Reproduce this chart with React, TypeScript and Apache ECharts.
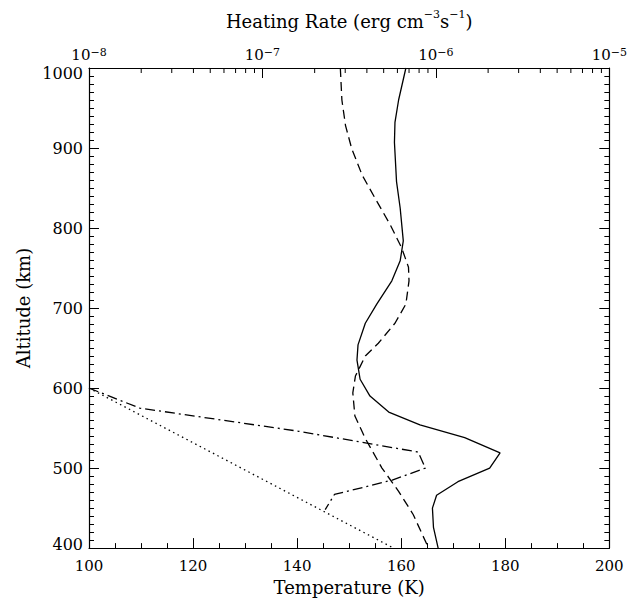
import React, { useEffect, useRef } from "react";
import * as echarts from "echarts";

// Temperature profile (solid), bottom axis
const altSolid = [1000, 960, 932, 907, 858, 825, 784, 759, 734, 705, 681, 654, 635, 611, 590, 570, 554, 538, 519, 500, 483, 466, 450, 426, 400];
const tempSolid = [160.9, 159.5, 158.8, 158.7, 159.1, 159.8, 160.4, 159.8, 158.2, 155.3, 153.1, 151.7, 151.5, 152.1, 154.0, 157.6, 163.6, 172.2, 179.0, 177.0, 170.9, 166.8, 166.0, 166.2, 167.1];

// Second temperature profile (dashed), bottom axis
const altDashed = [1000, 960, 928, 899, 866, 837, 804, 775, 751, 734, 705, 681, 656, 640, 615, 594, 565, 537, 500, 471, 442, 405, 400];
const tempDashed = [148.3, 148.6, 149.3, 150.5, 152.5, 155.0, 157.9, 160.1, 161.4, 161.5, 160.9, 158.8, 155.6, 153.1, 151.2, 150.7, 151.1, 153.1, 156.3, 159.5, 162.3, 164.9, 165.3];

// Heating rates, top (log) axis
const altDashDot = [600, 575, 546, 520, 500, 485, 467, 448];
const hrDashDot = [1.0e-8, 1.96e-8, 1.62e-7, 7.9e-7, 8.7e-7, 5.6e-7, 2.6e-7, 2.3e-7];

const altDotted = [600, 400];
const hrDotted = [1.0e-8, 5.7e-7];

// Minor tick positions on the log axis
const hrMinorTicks = [
  2e-8, 3e-8, 4e-8, 5e-8, 6e-8, 7e-8, 8e-8, 9e-8,
  2e-7, 3e-7, 4e-7, 5e-7, 6e-7, 7e-7, 8e-7, 9e-7,
  2e-6, 3e-6, 4e-6, 5e-6, 6e-6, 7e-6, 8e-6, 9e-6,
];

const ALT_MIN = 400;
const ALT_MAX = 1000;

const FONT = "DejaVu Serif";
const BLACK = "#000";

export default function App() {
  const ref = useRef<HTMLDivElement>(null);

  useEffect(() => {
    document.body.style.margin = "0";
    const chart = echarts.init(ref.current!, null, { renderer: "svg" });
    const axisLine = { show: true, lineStyle: { color: BLACK, width: 1.2 } };
    const tickStyle = { color: BLACK, width: 1 };
    const labelStyle = { color: BLACK, fontFamily: FONT, fontSize: 15 };
    const yLabelStyle = { color: BLACK, fontFamily: FONT, fontSize: 16 };
    const zip = (a: number[], b: number[]) => a.map((v, i) => [v, b[i]]);
    const hiddenY = (only: number, va: string, lh: number) => ({
      type: "value",
      position: "left",
      min: ALT_MIN,
      max: ALT_MAX,
      interval: 100,
      axisLine: { show: false },
      axisTick: { show: false },
      splitLine: { show: false },
      axisLabel: {
        ...yLabelStyle,
        margin: 6,
        verticalAlign: va,
        lineHeight: lh,
        showMinLabel: true,
        showMaxLabel: true,
        formatter: (v: number) => (v === only ? String(v) : ""),
      },
    });

    chart.setOption({
      animation: false,
      backgroundColor: "#fff",
      grid: { left: 89, right: 18, top: 68, bottom: 47, containLabel: false },
      xAxis: [
        {
          type: "value",
          position: "bottom",
          min: 100,
          max: 200,
          interval: 20,
          name: "Temperature (K)",
          nameLocation: "middle",
          nameGap: 29,
          nameTextStyle: { color: BLACK, fontFamily: FONT, fontSize: 18 },
          axisLine,
          axisTick: { show: true, inside: true, length: 10, lineStyle: tickStyle },
          minorTick: { show: true, splitNumber: 4, length: 5, lineStyle: tickStyle },
          axisLabel: { ...labelStyle, margin: 10, showMinLabel: true, showMaxLabel: true, formatter: (v: number) => String(v) },
          splitLine: { show: false },
          minorSplitLine: { show: false },
        },
        {
          type: "log",
          logBase: 10,
          position: "top",
          min: 1e-8,
          max: 1e-5,
          name: "{t|Heating Rate (erg cm}{s|−3}{t|s}{s|−1}{t|)}",
          nameLocation: "middle",
          nameGap: 35,
          nameTextStyle: {
            color: BLACK,
            fontFamily: FONT,
            fontSize: 18,
            rich: {
              t: { fontFamily: FONT, fontSize: 18, lineHeight: 24, color: BLACK },
              s: { fontFamily: FONT, fontSize: 11, lineHeight: 12, verticalAlign: "top", color: BLACK },
            },
          },
          axisLine,
          axisTick: { show: true, inside: true, length: 10, lineStyle: tickStyle },
          minorTick: { show: false },
          axisLabel: {
            color: BLACK,
            fontFamily: FONT,
            fontSize: 15,
            margin: 6,
            showMinLabel: true,
            showMaxLabel: true,
            formatter: (v: number) => `{a|10}{b|−${Math.abs(Math.round(Math.log10(v)))}}`,
            rich: {
              a: { fontFamily: FONT, fontSize: 15, lineHeight: 15, color: BLACK },
              b: { fontFamily: FONT, fontSize: 11, lineHeight: 4, verticalAlign: "top", color: BLACK },
            },
          },
          splitLine: { show: false },
        },
      ],
      yAxis: [
        {
          type: "value",
          position: "left",
          min: ALT_MIN,
          max: ALT_MAX,
          interval: 100,
          name: "Altitude (km)",
          nameLocation: "middle",
          nameGap: 57,
          nameTextStyle: { color: BLACK, fontFamily: FONT, fontSize: 18 },
          axisLine,
          axisTick: { show: true, inside: true, length: 10, lineStyle: tickStyle },
          minorTick: { show: true, splitNumber: 10, length: 5, lineStyle: tickStyle },
          axisLabel: {
            ...yLabelStyle,
            margin: 6,
            showMinLabel: true,
            showMaxLabel: true,
            formatter: (v: number) => (v === ALT_MIN || v === ALT_MAX ? "" : String(v)),
          },
          splitLine: { show: false },
          minorSplitLine: { show: false },
        },
        {
          type: "value",
          position: "right",
          min: ALT_MIN,
          max: ALT_MAX,
          interval: 100,
          axisLine,
          axisTick: { show: true, inside: true, length: 10, lineStyle: tickStyle },
          minorTick: { show: true, splitNumber: 10, length: 5, lineStyle: tickStyle },
          axisLabel: { show: false },
          splitLine: { show: false },
          minorSplitLine: { show: false },
        },
        hiddenY(ALT_MAX, "top", 10),
        hiddenY(ALT_MIN, "bottom", 8),
      ],
      series: [
        {
          type: "line",
          xAxisIndex: 0,
          yAxisIndex: 0,
          data: zip(tempSolid, altSolid),
          symbol: "none",
          lineStyle: { color: BLACK, width: 1.3, type: "solid" },
        },
        {
          type: "line",
          xAxisIndex: 0,
          yAxisIndex: 0,
          data: zip(tempDashed, altDashed),
          symbol: "none",
          lineStyle: { color: BLACK, width: 1.3, type: [9, 5] },
        },
        {
          type: "line",
          xAxisIndex: 1,
          yAxisIndex: 0,
          data: zip(hrDashDot, altDashDot),
          symbol: "none",
          lineStyle: { color: BLACK, width: 1.3, type: [10, 4, 2, 4] },
        },
        {
          type: "line",
          xAxisIndex: 1,
          yAxisIndex: 0,
          data: zip(hrDotted, altDotted),
          symbol: "none",
          lineStyle: { color: BLACK, width: 1.3, type: [1.5, 3.5] },
        },
        {
          type: "custom",
          xAxisIndex: 1,
          yAxisIndex: 0,
          silent: true,
          clip: false,
          data: hrMinorTicks.map((v) => [v, ALT_MAX]),
          renderItem: (_params: any, api: any) => {
            const p = api.coord([api.value(0), api.value(1)]);
            return {
              type: "line",
              shape: { x1: p[0], y1: p[1], x2: p[0], y2: p[1] + 5 },
              style: { stroke: BLACK, lineWidth: 1 },
            };
          },
        },
      ],
    });
    return () => chart.dispose();
  }, []);

  return (
    <div
      ref={ref}
      style={{ position: "absolute", left: 0, top: 0, width: 630, height: 601, background: "#fff" }}
    />
  );
}
